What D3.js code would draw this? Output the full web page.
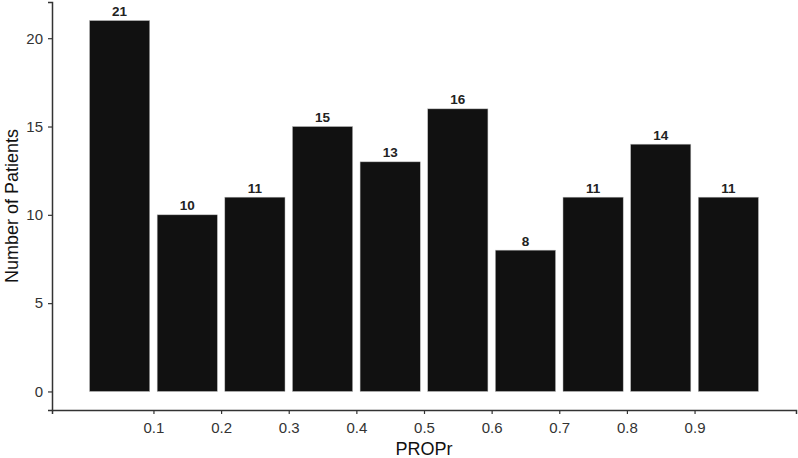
<!DOCTYPE html>
<html>
<head>
<meta charset="utf-8">
<script src="https://cdn.jsdelivr.net/npm/d3@7"></script>
<style>
  body { margin: 0; background: #fff; }
  svg { display: block; font-family: "Liberation Sans", Arial, sans-serif; }
</style>
</head>
<body>
<svg id="chart"></svg>
<script>
// histogram bins of PROPr, width 0.1
const binStarts = [0, 0.1, 0.2, 0.3, 0.4, 0.5, 0.6, 0.7, 0.8, 0.9]
const counts = [21, 10, 11, 15, 13, 16, 8, 11, 14, 11]
const xTicks = [0.1, 0.2, 0.3, 0.4, 0.5, 0.6, 0.7, 0.8, 0.9]
const yTicks = [0, 5, 10, 15, 20]
const binWidth = 0.1

const width = 798
const height = 458
const margin = {top: 2, right: 2, bottom: 48, left: 52}

const svg = d3.select('#chart')
  .attr('width', width)
  .attr('height', height)

const x = d3.scaleLinear()
  .domain([-0.05, 1.05])
  .range([margin.left, width - margin.right])

const y = d3.scaleLinear()
  .domain([-1.05, 22.05])
  .range([height - margin.bottom, margin.top])

// bars
const pad = binWidth * 0.055
svg.append('g')
  .selectAll('rect')
  .data(binStarts)
  .enter()
  .append('rect')
  .attr('x', d => x(d + pad))
  .attr('width', d => x(d + binWidth - pad) - x(d + pad))
  .attr('y', (d, i) => y(counts[i]))
  .attr('height', (d, i) => y(0) - y(counts[i]))
  .attr('fill', '#111')
  .attr('stroke', '#bbb')
  .attr('stroke-width', 0.5)

// count labels
svg.append('g')
  .selectAll('text')
  .data(binStarts)
  .enter()
  .append('text')
  .attr('x', d => x(d + binWidth / 2))
  .attr('y', (d, i) => y(counts[i]) - 4.5)
  .attr('text-anchor', 'middle')
  .style('font-size', '13.5px')
  .style('font-weight', 'bold')
  .style('fill', '#222')
  .text((d, i) => counts[i])

// axes
const xAxis = svg.append('g')
  .attr('transform', 'translate(0,' + (height - margin.bottom) + ')')
  .call(d3.axisBottom(x).tickValues(xTicks).tickSize(4).tickPadding(8).tickFormat(d3.format('.1f')))
xAxis.select('.domain').attr('stroke', '#333').attr('stroke-width', 1.5)
xAxis.selectAll('.tick line').attr('stroke', '#333').attr('stroke-width', 1.2)
xAxis.selectAll('.tick text').style('font-size', '15px').style('fill', '#333').style('font-family', '"Liberation Sans", Arial, sans-serif')

const yAxis = svg.append('g')
  .attr('transform', 'translate(' + margin.left + ',0)')
  .call(d3.axisLeft(y).tickValues(yTicks).tickSize(4).tickPadding(5))
yAxis.select('.domain').attr('stroke', '#333').attr('stroke-width', 1.5)
yAxis.selectAll('.tick line').attr('stroke', '#333').attr('stroke-width', 1.2)
yAxis.selectAll('.tick text').style('font-size', '15px').style('fill', '#333').style('font-family', '"Liberation Sans", Arial, sans-serif')

// titles
svg.append('text')
  .attr('x', (margin.left + width - margin.right) / 2)
  .attr('y', 455)
  .attr('text-anchor', 'middle')
  .style('font-size', '18px')
  .style('fill', '#111')
  .text('PROPr')

svg.append('text')
  .attr('transform', 'translate(18,' + y(10.5) + ') rotate(-90)')
  .attr('text-anchor', 'middle')
  .style('font-size', '18px')
  .style('fill', '#111')
  .text('Number of Patients')
</script>
</body>
</html>
